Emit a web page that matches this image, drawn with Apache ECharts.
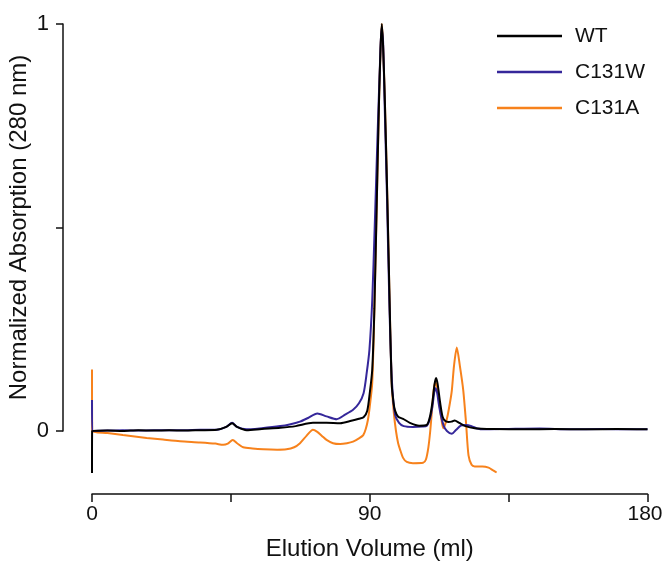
<!DOCTYPE html>
<html>
<head>
<meta charset="utf-8">
<script src="https://cdn.jsdelivr.net/npm/echarts@6/dist/echarts.min.js"></script>
<style>
html,body{margin:0;padding:0;background:#fff;}
#chart{width:663px;height:563px;}
</style>
</head>
<body>
<div id="chart"></div>
<script>
// Series names (legend order)
var seriesNames = ['WT', 'C131W', 'C131A'];
// Axis tick labels
var xTickLabels = {0: '0', 90: '90', 180: '180'};
var yTickLabels = {0: '0', 1: '1'};

// [elution volume (ml), normalized absorption]
var wtData = [
  [0,-0.103],[0.05,0],[5,0.001],[10,0],[15,0.002],[20,0.001],[25,0.002],[30,0.001],[35,0.002],
  [40.4,0.003],[43.5,0.01],[45.4,0.019],[47,0.01],[50.1,0.002],[55,0.005],[61,0.008],[66,0.012],
  [71.6,0.02],[76,0.02],[80.4,0.019],[84,0.025],[86.5,0.03],[88,0.034],[89.2,0.05],[90,0.093],
  [90.8,0.15],[91.5,0.3],[92.3,0.57],[93.0,0.81],[93.5,0.94],[93.9,1.0],[94.3,0.95],[94.9,0.81],
  [95.7,0.57],[96.4,0.33],[97.1,0.118],[97.7,0.07],[98.2,0.05],[99.2,0.035],[100.8,0.03],[103,0.02],
  [106,0.013],[108.5,0.015],[109.5,0.035],[110.3,0.07],[111.0,0.115],[111.5,0.13],[112.0,0.115],
  [112.8,0.07],[113.6,0.035],[114.4,0.025],[115.5,0.022],[116.5,0.023],[117.5,0.026],[119,0.02],
  [121,0.012],[124,0.007],[130,0.005],[140,0.004],[150,0.005],[160,0.004],[170,0.005],[180,0.004]
];
var c131wData = [
  [0,0.076],[0.05,0],[5,0.001],[10,0.002],[15,0.001],[20,0.002],[25,0.002],[30,0.002],[35,0.003],
  [40.4,0.003],[43.5,0.01],[45.4,0.02],[47,0.01],[50.1,0.004],[55,0.007],[61,0.012],[64,0.016],
  [67.4,0.023],[70,0.032],[73,0.043],[76,0.036],[79.3,0.029],[82,0.04],[84.6,0.052],[86.5,0.068],
  [88,0.093],[89,0.142],[89.9,0.2],[90.8,0.32],[91.6,0.5],[92.5,0.72],[93.3,0.9],[93.8,0.99],
  [94.3,0.96],[94.8,0.81],[95.6,0.57],[96.4,0.3],[97.2,0.12],[98.2,0.04],[99.5,0.02],[101,0.012],
  [104,0.01],[107,0.011],[108.5,0.013],[109.5,0.03],[110.3,0.06],[110.9,0.095],[111.3,0.105],
  [111.8,0.095],[112.4,0.065],[113,0.04],[114,0.012],[115,0.0],[116.6,-0.007],[118,0.003],
  [119.5,0.013],[121.2,0.015],[123,0.012],[124.8,0.006],[127,0.004],[135,0.005],[145,0.006],
  [155,0.004],[165,0.005],[175,0.004],[180,0.004]
];
var c131aData = [
  [0,0.151],[0.05,0],[5,-0.005],[10,-0.01],[17.7,-0.017],[23,-0.021],[28.5,-0.025],[35,-0.028],
  [40,-0.031],[42.5,-0.034],[44,-0.031],[45.6,-0.022],[47,-0.03],[49,-0.04],[52,-0.043],[55.5,-0.045],
  [60,-0.046],[63,-0.045],[65.5,-0.04],[67.4,-0.03],[69.5,-0.012],[71.6,0.003],[73,-0.002],
  [74.5,-0.012],[76,-0.022],[78.1,-0.03],[80.4,-0.032],[82.6,-0.03],[84.6,-0.026],[86.5,-0.018],
  [87.9,-0.01],[88.7,0.005],[89.4,0.027],[90,0.06],[90.8,0.118],[91.5,0.3],[92.3,0.57],[93.0,0.81],
  [93.5,0.94],[93.9,1.0],[94.3,0.95],[94.9,0.81],[95.7,0.57],[96.4,0.33],[97.1,0.118],[97.8,0.045],
  [98.5,0.0],[99.2,-0.03],[99.8,-0.045],[100.8,-0.066],[102,-0.076],[104,-0.079],[107.3,-0.078],
  [108.2,-0.07],[109,-0.04],[109.6,0.0],[110.1,0.045],[110.7,0.1],[111.3,0.12],[111.9,0.105],
  [112.5,0.07],[113.2,0.03],[113.8,0.007],[115,0.03],[116,0.07],[116.6,0.1],[117.3,0.16],
  [118.2,0.205],[119.2,0.16],[120.3,0.1],[121.2,0.02],[122,-0.06],[123,-0.083],[124,-0.087],
  [126.5,-0.087],[128.5,-0.09],[130,-0.097],[131.1,-0.102]
];

var colors = {WT: '#000000', C131W: '#35279a', C131A: '#f7821c'};
var fontFam = '"Liberation Sans", Arial, Helvetica, sans-serif';

var chart = echarts.init(document.getElementById('chart'), null, {renderer: 'canvas'});
function mkSeries(name, data, z) {
  return {
    name: name, type: 'line', data: data, showSymbol: false, symbol: 'none',
    smooth: 0.25, clip: false, z: z,
    lineStyle: {color: colors[name], width: 2},
    itemStyle: {color: colors[name]}
  };
}
chart.setOption({
  animation: false,
  backgroundColor: '#ffffff',
  grid: {left: 92, right: 15.5, top: 24, bottom: 132, containLabel: false, outerBoundsMode: 'none'},
  legend: {
    data: seriesNames, orient: 'vertical', left: 492, top: 20,
    icon: 'rect', itemWidth: 65, itemHeight: 2.5, itemGap: 14,
    textStyle: {fontFamily: fontFam, fontSize: 21, color: '#111', padding: [0,0,0,8], lineHeight: 22}
  },
  xAxis: {
    type: 'value', min: 0, max: 180, interval: 45, offset: 63,
    name: 'Elution Volume (ml)', nameLocation: 'middle', nameGap: 43,
    nameTextStyle: {fontFamily: fontFam, fontSize: 24, color: '#111'},
    axisLine: {onZero: false, lineStyle: {color: '#111', width: 1.5}},
    axisTick: {inside: false, length: 8, lineStyle: {color: '#111', width: 1.5}},
    axisLabel: {margin: 10, fontFamily: fontFam, fontSize: 21, color: '#111',
      formatter: function (v) {
        var t = xTickLabels[v] !== undefined ? xTickLabels[v] : '';
        return v === 180 ? '{r|' + t + '}' : t;
      },
      rich: {r: {fontFamily: fontFam, fontSize: 21, color: '#111', padding: [0, 5, 0, 0]}}},
    splitLine: {show: false}
  },
  yAxis: {
    type: 'value', min: 0, max: 1, interval: 0.5, offset: 29,
    name: 'Normalized Absorption (280 nm)', nameLocation: 'middle', nameGap: 32,
    nameMoveOverlap: false,
    nameTextStyle: {fontFamily: fontFam, fontSize: 24, color: '#111'},
    axisLine: {show: true, onZero: false, lineStyle: {color: '#111', width: 1.5}},
    axisTick: {show: true, inside: false, length: 7, lineStyle: {color: '#111', width: 1.5}},
    axisLabel: {margin: 14, fontFamily: fontFam, fontSize: 22, color: '#111',
      formatter: function (v) { return yTickLabels[v] !== undefined ? yTickLabels[v] : ''; }},
    splitLine: {show: false}
  },
  series: [
    mkSeries('C131A', c131aData, 1),
    mkSeries('C131W', c131wData, 2),
    mkSeries('WT', wtData, 3)
  ]
});
</script>
</body>
</html>
